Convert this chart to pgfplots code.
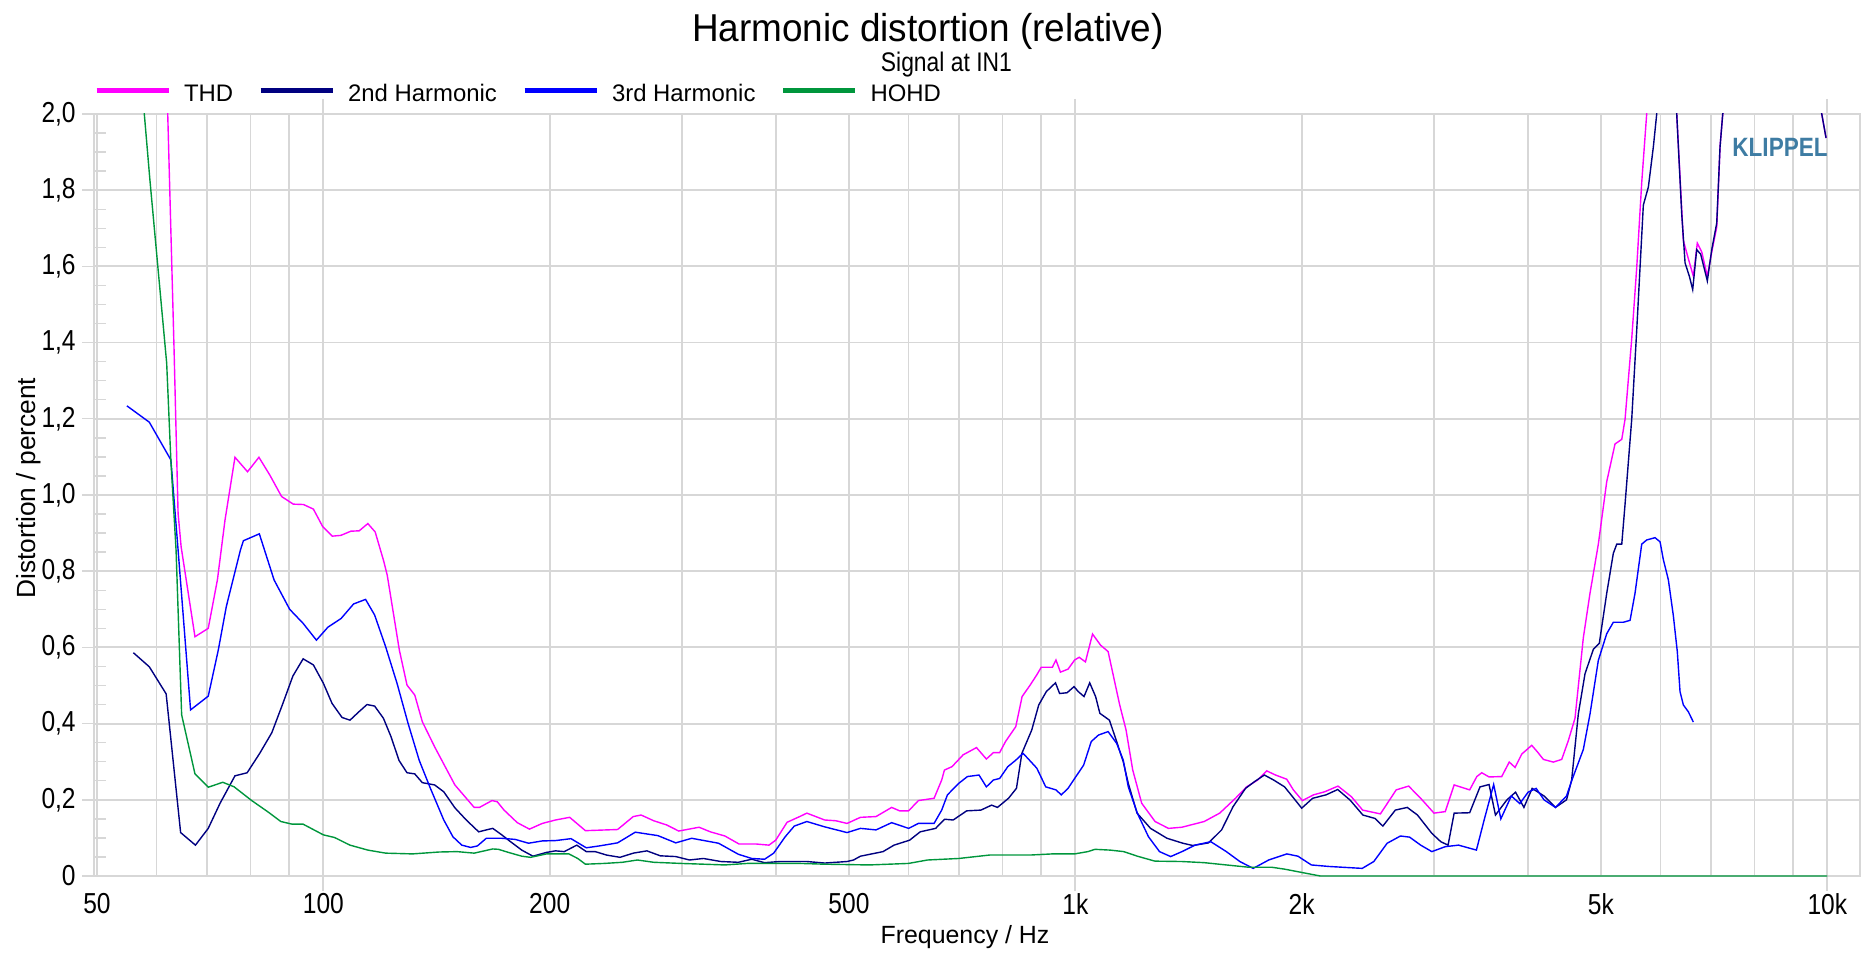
\documentclass[border=0pt]{standalone}
\usepackage{pgfplots}
\pgfplotsset{compat=1.18}
\usepackage{fontspec}
\setmainfont{Liberation Sans}
\newfontfamily\condfont{Liberation Sans}[FakeStretch=0.85]
\newfontfamily\titlefont{Liberation Sans}[FakeStretch=0.95]
\definecolor{thd}{RGB}{255,0,255}
\definecolor{htwo}{RGB}{0,0,128}
\definecolor{hthree}{RGB}{0,0,255}
\definecolor{hohd}{RGB}{0,150,60}
\definecolor{gridc}{RGB}{215,215,215}
\definecolor{klip}{RGB}{62,124,163}
\begin{document}
\begin{tikzpicture}
\useasboundingbox (-47bp,-38.5bp) rectangle (883.5bp,438bp);
\begin{axis}[
  at={(0,0)}, anchor=south west,
  scale only axis, width=883bp, height=381bp,
  xmode=log, xmin=49.55, xmax=11053, ymin=0, ymax=2,
  xtick={50,100,200,500,1000,2000,5000,10000},
  xticklabels={50,100,200,500,1k,2k,5k,10k},
  minor xtick={60,70,80,90,300,400,600,700,800,900,3000,4000,6000,7000,8000,9000},
  ytick={0,0.2,0.4,0.6,0.8,1,1.2,1.4,1.6,1.8,2},
  yticklabels={0,{0,2},{0,4},{0,6},{0,8},{1,0},{1,2},{1,4},{1,6},{1,8},{2,0}},
  minor y tick num=3,
  xmajorgrids, xminorgrids, ymajorgrids,
  grid style={draw=gridc, line width=0.9bp},
  minor grid style={draw=gridc, line width=0.9bp},
  axis line style={draw=gridc, line width=0.9bp},
  tick align=outside, major tick length=6bp, minor tick length=6bp,
  tick style={draw=gridc, line width=0.7bp},
  major x tick style={draw=none}, minor x tick style={draw=none},
  minor y tick style={xshift=6bp},
  extra x ticks={100,1000,10000}, extra x tick labels={},
  extra x tick style={grid=none, major x tick style={draw=gridc, line width=0.9bp}, major tick length=7.5bp},
  ticklabel style={font=\condfont\fontsize{14.5}{16}\selectfont, inner sep=0pt},
  yticklabel style={xshift=-3bp},
  xticklabel style={yshift=-2.5bp},
  xlabel={Frequency / Hz}, ylabel={Distortion / percent},
  label style={font=\fontsize{12.5}{15}\selectfont, inner sep=0pt},
  xlabel style={at={(axis description cs:0.4932,0)}, anchor=base, yshift=-33.5bp},
  ylabel style={at={(axis description cs:-0.03341,0.509)}, anchor=base, font=\fontsize{13.2}{15}\selectfont},
  legend columns=4,
  legend style={at={(0,1)}, anchor=south west, yshift=5bp, draw=none, fill=none,
    inner sep=0pt, outer sep=0pt, font=\fontsize{12}{14}\selectfont,
    nodes={inner sep=0pt, anchor=base west},
    /tikz/every odd column/.append style={column sep=6.5bp},
    /tikz/every even column/.append style={column sep=12.5bp}},
  legend image code/.code={\draw[#1, line width=2.5bp] (0bp,5.3bp) -- (36bp,5.3bp);},
  every axis plot/.append style={line width=0.7bp},
]
\addplot[thd] coordinates {
(56,5) (62.1,2.0) (63.3,1.39) (64.1,0.952) (64.7,0.864) (67.5,0.628) (70.3,0.650) (72.3,0.777)
(74.0,0.934) (76.3,1.099) (79.3,1.061) (82.1,1.099) (84.9,1.052) (88.0,0.996) (91.2,0.976)
(94.1,0.975) (97.0,0.963) (99.8,0.917) (102.8,0.892) (105.5,0.894) (108.8,0.905) (111.6,0.906)
(114.6,0.925) (117.2,0.903) (120.2,0.829) (121.6,0.790) (126.2,0.593) (129.2,0.501) (132.3,0.475)
(135.4,0.405) (140.6,0.339) (149.6,0.239) (158.7,0.180) (161.3,0.180) (167.6,0.198) (170.3,0.195)
(173.9,0.173) (181.1,0.140) (188.0,0.123) (195.5,0.138) (203.6,0.147) (212.6,0.154) (223.1,0.119)
(246.2,0.122) (258.3,0.156) (264.6,0.160) (275.0,0.145) (286.1,0.134) (296.9,0.118) (316.0,0.128)
(327.0,0.116) (342.0,0.105) (357.1,0.084) (376.2,0.084) (391.4,0.081) (399.6,0.094) (413.7,0.141)
(430,0.156) (439.5,0.165) (464.1,0.147) (480.3,0.145) (497.1,0.138) (517.9,0.154) (543.2,0.156)
(569.8,0.180) (583.9,0.171) (600.2,0.171) (618.5,0.198) (648.9,0.204) (664.2,0.252) (669.8,0.278)
(685.5,0.287) (709.2,0.318) (738.9,0.337) (761.6,0.307) (778.4,0.324) (793.3,0.324) (807.6,0.353)
(833.3,0.392) (849.6,0.471) (870.7,0.501) (888.7,0.528) (901.0,0.548) (932.1,0.548) (942.3,0.567)
(955.4,0.535) (977.9,0.543) (997.9,0.567) (1011.8,0.574) (1031.4,0.562) (1054.1,0.635) (1080.2,0.606)
(1105.6,0.589) (1144.3,0.453) (1168.0,0.383) (1192.2,0.278) (1225.3,0.191) (1276.5,0.143) (1330.0,0.125)
(1385.7,0.128) (1483.7,0.143) (1556.0,0.165) (1633.0,0.204) (1689.5,0.234) (1748.4,0.252) (1796.6,0.276)
(1846.2,0.265) (1910.6,0.254) (1949.8,0.226) (2004.0,0.198) (2073.9,0.213) (2145.3,0.221) (2235.1,0.236)
(2329.0,0.208) (2410.0,0.173) (2545.0,0.163) (2671.0,0.226) (2774.7,0.236) (2878.7,0.204) (2999,0.165)
(3104,0.169) (3190,0.239) (3345,0.226) (3419,0.261) (3471,0.271) (3550,0.26) (3690,0.261)
(3776,0.299) (3844,0.285) (3924,0.320) (4045,0.343) (4115,0.326) (4192,0.306) (4321,0.299)
(4434,0.306) (4524,0.355) (4618,0.414) (4737,0.625) (4835,0.742) (4960,0.871) (5089,1.035)
(5220,1.134) (5329,1.146) (5383,1.199) (5494,1.410) (5579,1.597) (5665,1.820) (5752,2.001)
(5950,2.5) (6150,2.5) (6306,2.0) (6435,1.668) (6535,1.620) (6635,1.574) (6716,1.661) (6808,1.638)
(6925,1.574) (7020,1.638) (7128,1.703) (7200,1.913) (7260,2.0) (8500,2.6) (9831,2.0) (9961,1.937)
};
\addlegendentry{THD}
\addplot[htwo] coordinates {
(55.9,0.586) (58.7,0.549) (61.8,0.478) (64.6,0.114) (67.6,0.081) (70.3,0.125) (72.9,0.191)
(76.3,0.263) (79.2,0.271) (82.3,0.322) (85.4,0.376) (88.2,0.449) (91.1,0.525) (94.0,0.570)
(97.0,0.554) (100,0.506) (102.7,0.453) (105.9,0.416) (108.5,0.409) (111.5,0.431) (114.3,0.450)
(117.0,0.446) (120.2,0.414) (123.0,0.366) (126.1,0.303) (129.2,0.271) (132.3,0.268) (135.4,0.245)
(140.6,0.239) (144.6,0.221) (149.6,0.179) (154.9,0.147) (160.9,0.116) (164.7,0.121) (168.0,0.125)
(172.7,0.108) (177.4,0.090) (183.6,0.068) (190.0,0.052) (198.1,0.062) (203.6,0.066) (209.1,0.064)
(217.3,0.081) (223.7,0.064) (229.9,0.064) (238.0,0.055) (248.0,0.049) (258.4,0.060) (269.3,0.066)
(280.6,0.053) (294.2,0.051) (306.8,0.042) (320.2,0.046) (337.7,0.038) (356.4,0.036) (371.3,0.044)
(386.2,0.035) (404.8,0.038) (439.5,0.038) (464.1,0.034) (497.1,0.038) (507,0.042) (517.9,0.052)
(555,0.064) (574,0.081) (602,0.094) (622,0.116) (652,0.125) (670,0.149) (688,0.147) (717,0.171)
(749,0.173) (774,0.186) (788,0.180) (815,0.204) (835,0.230) (849,0.322) (875,0.383) (894,0.449)
(915,0.484) (941,0.507) (953,0.479) (975,0.481) (996,0.497) (1009,0.484) (1027,0.471) (1045,0.507)
(1064,0.471) (1078,0.427) (1110,0.409) (1133,0.357) (1158,0.300) (1176,0.243) (1208,0.165)
(1259,0.125) (1324,0.099) (1390,0.086) (1433,0.080) (1504,0.087) (1565,0.121) (1621,0.182)
(1684,0.230) (1732,0.248) (1784,0.265) (1835,0.252) (1898,0.234) (1945,0.208) (2000,0.178)
(2068,0.204) (2155,0.213) (2233,0.227) (2320,0.199) (2412,0.160) (2504,0.151) (2564,0.131)
(2664,0.173) (2763,0.180) (2851,0.160) (2979,0.112) (3062,0.090) (3131,0.081) (3190,0.165)
(3345,0.166) (3453,0.234) (3550,0.24) (3620,0.16) (3750,0.20) (3850,0.22) (3950,0.18) (4050,0.23)
(4200,0.21) (4350,0.18) (4500,0.20) (4571,0.252) (4665,0.425) (4762,0.531) (4885,0.595)
(4975,0.611) (5089,0.742) (5193,0.847) (5248,0.871) (5329,0.871) (5383,0.976) (5494,1.199)
(5579,1.433) (5693,1.761) (5781,1.808) (5870,1.913) (5931,2.0) (6100,2.4) (6306,2.0) (6403,1.738)
(6469,1.609) (6555,1.574) (6622,1.539) (6704,1.644) (6786,1.632) (6925,1.562) (7020,1.644)
(7128,1.714) (7200,1.913) (7260,2.0) (8500,2.6) (9831,2.0) (9961,1.937)
};
\addlegendentry{2nd Harmonic}
\addplot[hthree] coordinates {
(54.8,1.234) (58.7,1.191) (62.7,1.092) (64.1,0.856) (66.6,0.436) (70.3,0.472) (72.5,0.593)
(74.3,0.707) (77.6,0.856) (78.3,0.880) (82.2,0.898) (86.0,0.777) (90.2,0.700) (94.0,0.663)
(97.9,0.619) (101.4,0.653) (105.6,0.676) (109.7,0.714) (113.8,0.726) (117.0,0.685) (121.0,0.602)
(125.3,0.506) (129.6,0.401) (134.1,0.304) (138.8,0.230) (144.6,0.147) (148.7,0.103) (152.8,0.081)
(157.0,0.075) (160.3,0.079) (164.7,0.099) (172.7,0.099) (180.0,0.096) (187.5,0.086) (195.4,0.092)
(203.6,0.093) (213.5,0.098) (223.7,0.074) (232.9,0.079) (246.2,0.087) (259.9,0.115) (278.5,0.106)
(294.2,0.087) (308.9,0.099) (335.4,0.086) (356.4,0.057) (371.3,0.046) (386.2,0.044) (397.1,0.060)
(411.3,0.103) (422.9,0.131) (439.5,0.143) (464.1,0.129) (497.1,0.114) (517.9,0.125) (543.2,0.121)
(569.8,0.140) (600.2,0.125) (618.5,0.138) (648.9,0.138) (664.2,0.173) (676,0.213) (699.7,0.243)
(718.6,0.261) (744.7,0.265) (761.6,0.234) (778.4,0.252) (793.3,0.256) (813.2,0.287) (833.3,0.304)
(852.0,0.322) (864.3,0.309) (888.7,0.283) (913.3,0.234) (942.3,0.226) (957.9,0.213) (977.9,0.230)
(997.9,0.256) (1025.7,0.291) (1050,0.353) (1073.6,0.370) (1105.6,0.379) (1135,0.348) (1158,0.304)
(1176,0.234) (1209,0.165) (1251,0.103) (1294,0.064) (1339,0.051) (1386,0.064) (1443,0.081)
(1514,0.090) (1588,0.064) (1655,0.038) (1724,0.020) (1808,0.042) (1911,0.058) (1977,0.052)
(2060,0.029) (2175,0.025) (2407,0.020) (2494,0.038) (2598,0.086) (2706,0.105) (2783,0.102)
(2879,0.081) (2979,0.064) (3104,0.077) (3233,0.081) (3415,0.068) (3500,0.15) (3600,0.24)
(3680,0.15) (3800,0.21) (3900,0.19) (4000,0.22) (4100,0.23) (4200,0.20) (4350,0.18) (4500,0.21)
(4571,0.25) (4737,0.332) (4835,0.425) (4960,0.566) (5089,0.636) (5193,0.666) (5355,0.666)
(5466,0.671) (5550,0.742) (5665,0.871) (5752,0.882) (5901,0.888) (5992,0.877) (6053,0.830)
(6147,0.777) (6241,0.683) (6317,0.589) (6370,0.484) (6435,0.449) (6535,0.431) (6635,0.404)
};
\addlegendentry{3rd Harmonic}
\addplot[hohd] coordinates {
(55,2.6) (57.8,2.0) (58.8,1.827) (61.9,1.346) (62.7,1.09) (63.7,0.856) (64.8,0.423) (67.5,0.268)
(70.3,0.233) (73.5,0.246) (76.1,0.234) (80.3,0.198) (84.3,0.169) (87.8,0.143) (90.9,0.136)
(94.0,0.136) (100,0.108) (103.5,0.101) (108.5,0.081) (114.6,0.068) (121.0,0.060) (131.4,0.058)
(142.6,0.063) (150.6,0.064) (158.7,0.060) (168.0,0.071) (171,0.070) (176.2,0.062) (183.6,0.052)
(188.6,0.049) (198.1,0.058) (212.1,0.058) (217.9,0.046) (223.1,0.031) (236.3,0.033) (249.9,0.036)
(261.6,0.042) (275.0,0.036) (298.9,0.033) (320.2,0.031) (342.0,0.029) (366.4,0.033) (391.4,0.033)
(430.7,0.033) (464,0.031) (532,0.029) (600,0.033) (636,0.042) (700,0.046) (769,0.055) (870.7,0.055)
(932,0.058) (998,0.058) (1039,0.064) (1062,0.070) (1112,0.068) (1160,0.064) (1209,0.052)
(1276,0.039) (1386,0.038) (1484,0.035) (1588,0.029) (1701,0.023) (1824,0.023) (1898,0.018)
(2004,0.009) (2117,0) (10000,0)
};
\addlegendentry{HOHD}
\node[anchor=base, font=\condfont\bfseries\fontsize{13.3}{15}\selectfont, text=klip, inner sep=0pt]
  at (rel axis cs:0.9547,0.9436) {KLIPPEL};
\end{axis}
\node[anchor=base, inner sep=0pt, font=\titlefont\fontsize{19.5}{23}\selectfont] at (417bp,417.2bp) {Harmonic distortion (relative)};
\node[anchor=base, inner sep=0pt, font=\condfont\fontsize{13.5}{16}\selectfont] at (426.2bp,402.2bp) {Signal at IN1};
\end{tikzpicture}
\end{document}
